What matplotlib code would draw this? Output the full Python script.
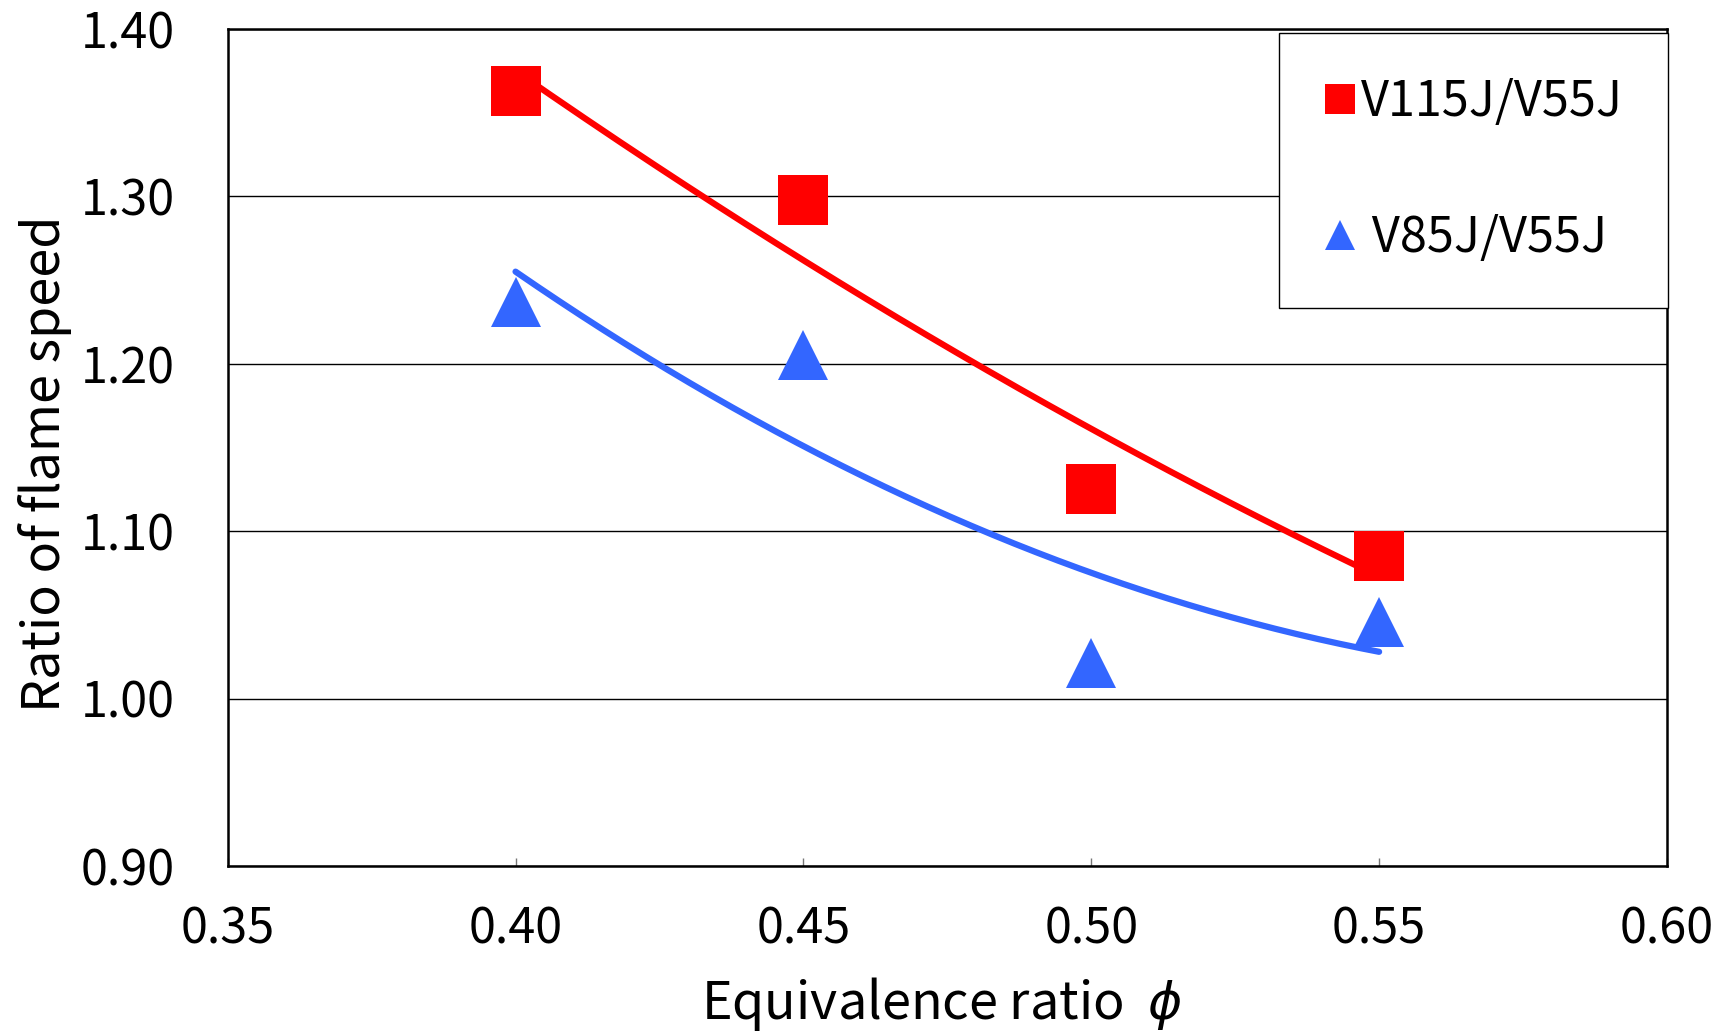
import numpy as np
import matplotlib.pyplot as plt
from matplotlib.lines import Line2D

plt.rcParams['font.family'] = ['Noto Sans CJK JP', 'DejaVu Sans']
plt.rcParams['mathtext.fontset'] = 'dejavusans'

# ---------------- data ----------------
phi = [0.40, 0.45, 0.50, 0.55]
v115_v55 = [1.363, 1.298, 1.125, 1.085]
v85_v55 = [1.237, 1.205, 1.021, 1.046]

series_labels = ["V115J/V55J", " V85J/V55J"]
xticks = [0.35, 0.40, 0.45, 0.50, 0.55, 0.60]
yticks = [0.90, 1.00, 1.10, 1.20, 1.30, 1.40]

red = "#FF0000"
blue = "#3366FF"
fs = 35
fs_lab = 37.5

fig = plt.figure(figsize=(17.21, 10.36), dpi=100)
ax = fig.add_axes([0.1323, 0.1641, 0.8363, 0.8079])

# polynomial (2nd order) trendlines, like the spreadsheet
xs = np.linspace(min(phi), max(phi), 200)
for y, c in [(v115_v55, red), (v85_v55, blue)]:
    coef = np.polyfit(phi, y, 2)
    ax.plot(xs, np.polyval(coef, xs), color=c, lw=4.5,
            solid_capstyle="round", zorder=3)

ax.plot(phi, v115_v55, ls="none", marker="s", ms=36, mew=0,
        color=red, zorder=4)
ax.plot(phi, v85_v55, ls="none", marker="^", ms=36, mew=0,
        color=blue, zorder=4)

ax.set_xlim(0.35, 0.60)
ax.set_ylim(0.90, 1.40)
ax.set_xticks(xticks)
ax.set_yticks(yticks)
ax.set_xticklabels([f"{t:.2f}" for t in xticks])
ax.set_yticklabels([f"{t:.2f}" for t in yticks])
ax.tick_params(axis="x", direction="in", length=6, width=1,
               color="#777777", labelsize=fs, pad=28)
ax.tick_params(axis="y", length=0, labelsize=fs, pad=38)

ax.yaxis.grid(True, color="black", lw=1.0)
ax.set_axisbelow(True)
for s in ax.spines.values():
    s.set_linewidth(1.8)

ax.set_xlabel(r"Equivalence ratio  $\phi$", fontsize=fs_lab)
ax.xaxis.set_label_coords(0.496, -0.13)
ax.set_ylabel("Ratio of flame speed", fontsize=fs_lab)
ax.yaxis.set_label_coords(-0.108, 0.48)

handles = [
    Line2D([], [], ls="none", marker="s", ms=22, mew=0, color=red),
    Line2D([], [], ls="none", marker="^", ms=22, mew=0, color=blue),
]
leg = ax.legend(handles, series_labels, loc="upper right",
                bbox_to_anchor=(1.0007, 0.9952), fontsize=fs,
                frameon=True, fancybox=False, framealpha=1,
                edgecolor="black", borderpad=0.92, labelspacing=1.77,
                handlelength=0.7, handletextpad=0.08, borderaxespad=0)
leg.get_frame().set_linewidth(1.0)
leg.set_zorder(5)

fig.savefig("out.png", dpi=100)
plt.close(fig)
